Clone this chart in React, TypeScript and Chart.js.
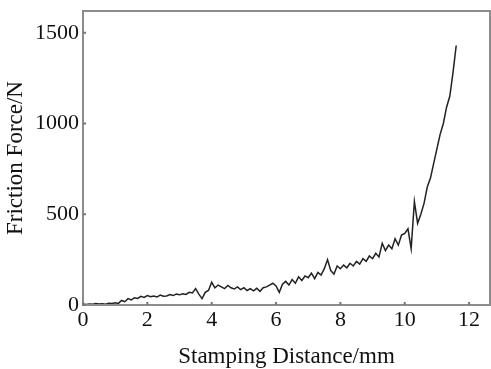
import React, { useEffect, useRef } from "react";
import { Chart, registerables } from "chart.js";

Chart.register(...registerables);

const distanceMm = [
  0.0, 0.1, 0.2, 0.3, 0.4, 0.5, 0.6, 0.7, 0.8, 0.9,
  1.0, 1.1, 1.2, 1.3, 1.4, 1.5, 1.6, 1.7, 1.8, 1.9,
  2.0, 2.1, 2.2, 2.3, 2.4, 2.5, 2.6, 2.7, 2.8, 2.9,
  3.0, 3.1, 3.2, 3.3, 3.4, 3.5, 3.6, 3.7, 3.8, 3.9,
  4.0, 4.1, 4.2, 4.3, 4.4, 4.5, 4.6, 4.7, 4.8, 4.9,
  5.0, 5.1, 5.2, 5.3, 5.4, 5.5, 5.6, 5.7, 5.8, 5.9,
  6.0, 6.1, 6.2, 6.3, 6.4, 6.5, 6.6, 6.7, 6.8, 6.9,
  7.0, 7.1, 7.2, 7.3, 7.4, 7.5, 7.6, 7.7, 7.8, 7.9,
  8.0, 8.1, 8.2, 8.3, 8.4, 8.5, 8.6, 8.7, 8.8, 8.9,
  9.0, 9.1, 9.2, 9.3, 9.4, 9.5, 9.6, 9.7, 9.8, 9.9,
  10.0, 10.1, 10.2, 10.3, 10.4, 10.5, 10.6, 10.7, 10.8, 10.9,
  11.0, 11.1, 11.2, 11.3, 11.4, 11.5, 11.6,
];

const frictionForceN = [
  5, 3, 6, 4, 8, 5, 7, 4, 10, 8,
  12, 9, 25, 18, 35, 28, 40, 36, 48, 42,
  52, 46, 50, 44, 55, 48, 50, 58, 52, 60,
  56, 62, 58, 70, 66, 90, 60, 35, 70, 80,
  125, 95, 110, 100, 90, 108, 95, 88, 100, 85,
  95, 80, 90, 78, 92, 75, 95, 100, 110, 120,
  105, 70, 115, 130, 110, 140, 120, 155, 135, 160,
  150, 175, 145, 180, 165, 200, 250, 190, 170, 215,
  200, 220, 205, 230, 215, 240, 225, 255, 240, 270,
  255, 285, 265, 340, 300, 330, 310, 365, 330, 385,
  395, 420, 310, 570, 450, 500, 560, 650, 700, 780,
  860, 940, 1000, 1090, 1150, 1280, 1430,
];

const xTicks = [0, 2, 4, 6, 8, 10, 12];
const yTicks = [0, 500, 1000, 1500];

const X_MAX = 12.65;
const Y_MAX = 1620;

const framePlugin = {
  id: "frameTicks",
  afterDraw(chart: any) {
    const { ctx, chartArea, scales } = chart;
    const { left, right, top, bottom } = chartArea;
    ctx.save();
    ctx.strokeStyle = "#8c8c8c";
    ctx.lineWidth = 2;
    ctx.strokeRect(left, top, right - left, bottom - top);
    ctx.strokeStyle = "#777";
    ctx.lineWidth = 2;
    ctx.beginPath();
    for (const v of xTicks) {
      const px = scales.x.getPixelForValue(v);
      ctx.moveTo(px, bottom);
      ctx.lineTo(px, bottom - 3);
    }
    for (const v of yTicks) {
      const py = scales.y.getPixelForValue(v);
      ctx.moveTo(left, py);
      ctx.lineTo(left + 3, py);
    }
    ctx.stroke();
    ctx.restore();
  },
};

export default function App() {
  const ref = useRef<HTMLCanvasElement | null>(null);

  useEffect(() => {
    if (!ref.current) return;
    const data = distanceMm.map((x, i) => ({ x, y: frictionForceN[i] }));
    const tickFont = { family: "'Liberation Serif', 'Times New Roman', serif", size: 22 };
    const titleFont = { family: "'Liberation Serif', 'Times New Roman', serif", size: 23 };
    const chart = new Chart(ref.current, {
      type: "line",
      data: {
        datasets: [
          {
            data,
            borderColor: "#222",
            borderWidth: 1.5,
            pointRadius: 0,
            tension: 0,
            fill: false,
          },
        ],
      },
      options: {
        animation: false,
        responsive: false,
        maintainAspectRatio: false,
        layout: { padding: { top: 11, right: 1, left: 0, bottom: 0 } },
        plugins: { legend: { display: false }, tooltip: { enabled: false } },
        scales: {
          x: {
            type: "linear",
            min: 0,
            max: X_MAX,
            afterFit: (s: any) => {
              s.height = 64;
              s.paddingLeft = 0;
              s.paddingRight = 0;
            },
            afterBuildTicks: (s: any) => {
              s.ticks = xTicks.map((v) => ({ value: v }));
            },
            ticks: {
              color: "#111",
              font: tickFont,
              padding: 2,
              maxRotation: 0,
              autoSkip: false,
              callback: (v: any) => String(v),
            },
            grid: { display: false, drawTicks: false },
            border: { display: false },
            title: {
              display: true,
              text: "Stamping Distance/mm",
              color: "#111",
              font: titleFont,
              padding: { top: 0, bottom: -2 },
            },
          },
          y: {
            type: "linear",
            min: 0,
            max: Y_MAX,
            afterFit: (s: any) => {
              s.width = 83;
              s.paddingTop = 0;
              s.paddingBottom = 0;
            },
            afterBuildTicks: (s: any) => {
              s.ticks = yTicks.map((v) => ({ value: v }));
            },
            ticks: {
              color: "#111",
              font: tickFont,
              padding: 4,
              autoSkip: false,
              callback: (v: any) => String(v),
            },
            grid: { display: false, drawTicks: false },
            border: { display: false },
            title: {
              display: true,
              text: "Friction Force/N",
              color: "#111",
              font: titleFont,
              padding: { top: 2, bottom: 0 },
            },
          },
        },
      },
      plugins: [framePlugin],
    });
    return () => chart.destroy();
  }, []);

  return (
    <div style={{ position: "fixed", left: 0, top: 0, width: 491, height: 369, background: "#fff" }}>
      <canvas ref={ref} width={491} height={369} style={{ width: 491, height: 369, display: "block" }} />
    </div>
  );
}
